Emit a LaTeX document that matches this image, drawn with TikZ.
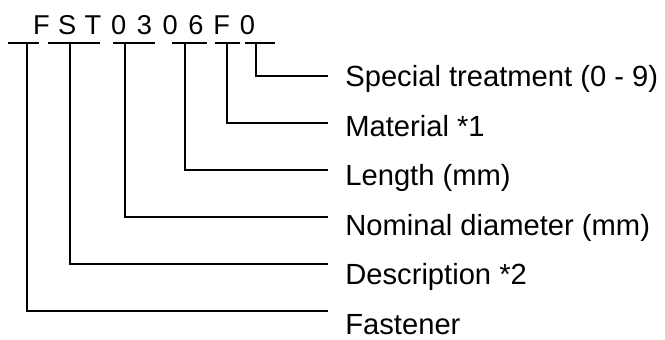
\documentclass[tikz,border=0pt]{standalone}
\usepackage{fontspec}
\setmainfont{Liberation Sans}
\usetikzlibrary{positioning}
\begin{document}
\begin{tikzpicture}[x=0.02cm, y=-0.02cm,
            % Style for the characters of the part number
            digit/.style={font=\fontsize{15.5}{18}\selectfont, anchor=base, inner sep=0},
            % Style for the labels on the right
            info/.style={font=\fontsize{16.6}{20}\selectfont, anchor=base west, inner sep=0},
            % Style for the bars and leader lines
            lead/.style={line width=1.1pt}
        ]
        \useasboundingbox (0,0) rectangle (665,340);

        % --- Part number: one node per character ---
        \foreach \ch [count=\i] in {F,S,T,0,3,0,6,F,0} {
            \node[digit] (c\i) at ({41.5+25.75*(\i-1)}, 35) {\ch};
        }

        % --- Bars under the groups of characters ---
        \foreach \n/\a/\b/\v in {1/8/39/27, 2/48/100/70, 3/113/155/125, 4/172/207/185, 5/215/240/227, 6/245/275/256} {
            \coordinate (bl\n) at (\a, 43);
            \coordinate (br\n) at (\b, 43);
            \coordinate (v\n) at (\v, 43);
            \draw[lead] (bl\n) -- (br\n);
        }

        % --- Labels and the leader lines going to them ---
        \foreach \n/\txt in {1/Fastener, 2/Description *2, 3/Nominal diameter (mm), 4/Length (mm), 5/Material *1, 6/Special treatment (0 - 9)} {
            \node[info] (l\n) at (345, {86.5+49.6*(6-\n)}) {\txt};
            \coordinate (e\n) at (328, {76+46.94*(6-\n)});
            \draw[lead] (v\n) |- (e\n);
        }

        \end{tikzpicture}
\end{document}
